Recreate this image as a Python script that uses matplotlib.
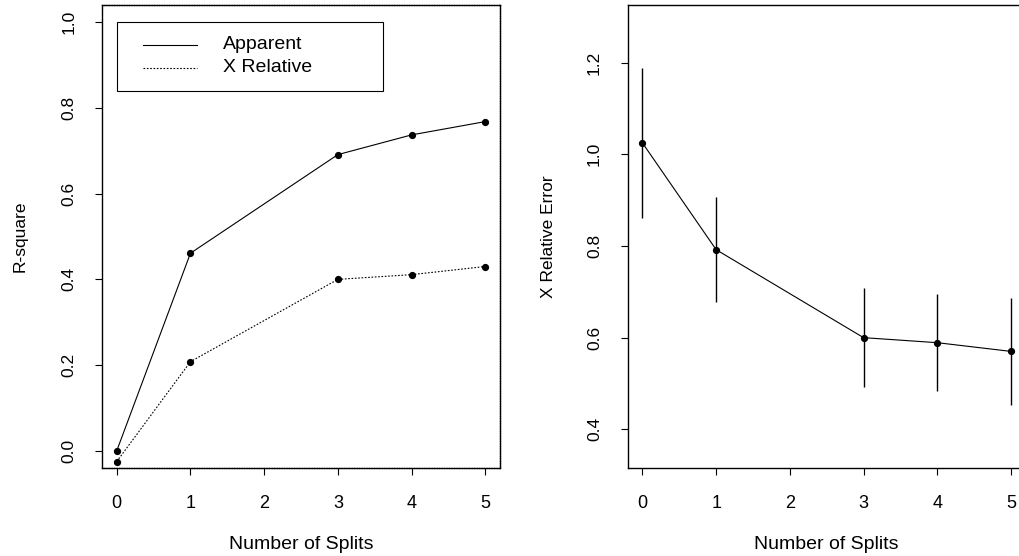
import numpy as np
import matplotlib
matplotlib.use("Agg")
import matplotlib.pyplot as plt
from matplotlib.patches import Rectangle

plt.rcParams['font.family'] = ['Liberation Sans', 'DejaVu Sans']

# values
nsplit = [0, 1, 3, 4, 5]
apparent = [0.000, 0.461, 0.691, 0.737, 0.768]
xrelative = [-0.025, 0.208, 0.400, 0.411, 0.430]
xerror = [1.025, 0.792, 0.600, 0.589, 0.570]
xstd = [0.164, 0.114, 0.108, 0.106, 0.117]
legend_labels = ["Apparent", "X Relative"]

fig = plt.figure(figsize=(10.19, 5.56), dpi=100)
axw = 398 / 1019.
bot = 88 / 556.
axh = 463 / 556.
ax1 = fig.add_axes([102 / 1019., bot, axw, axh])
ax2 = fig.add_axes([627.7 / 1019., bot, axw, axh])

lw = 0.8
ms = 4.2
dots = (0, (1.5, 1.5))

# ---- left: R-square
ax1.plot(nsplit, apparent, '-', color='k', lw=lw, marker='o', ms=ms)
ax1.plot(nsplit, xrelative, color='k', lw=lw, ls=dots, marker='o', ms=ms)
ax1.set_xlim(-0.2, 5.2)
ax1.set_ylim(-0.04, 1.04)
ax1.set_yticks([0.0, 0.2, 0.4, 0.6, 0.8, 1.0])
ax1.set_ylabel("R-square", fontsize=12.5, labelpad=24)
ax1.set_xlabel("Number of Splits", fontsize=14, labelpad=17.5)
for s in ['top', 'right', 'bottom']:
    ax1.spines[s].set_linestyle((0, (1.2, 0.6)))

# legend box drawn like R's legend()
ax1.add_patch(Rectangle((0.0, 0.840), 3.61, 0.160, fill=False, ec='k', lw=lw))
ax1.plot([0.353, 1.085], [0.947, 0.947], '-', color='k', lw=lw)
ax1.plot([0.353, 1.085], [0.894, 0.894], color='k', lw=lw, ls=dots)
ax1.text(1.44, 0.947, legend_labels[0], fontsize=14, va='center', ha='left')
ax1.text(1.44, 0.894, legend_labels[1], fontsize=14, va='center', ha='left')

# ---- right: X relative error
ax2.plot(nsplit, xerror, '-', color='k', lw=lw, marker='o', ms=ms)
lo = np.array(xerror) - np.array(xstd)
hi = np.array(xerror) + np.array(xstd)
ax2.vlines(nsplit, lo, hi, color='k', lw=1.0)
ax2.set_xlim(-0.2, 5.2)
ax2.set_ylim(0.3155, 1.326)
ax2.set_yticks([0.4, 0.6, 0.8, 1.0, 1.2])
ax2.set_ylabel("X Relative Error", fontsize=12.5, labelpad=22)
ax2.set_xlabel("Number of Splits", fontsize=14, labelpad=17.5)

for ax in (ax1, ax2):
    ax.set_xticks([0, 1, 2, 3, 4, 5])
    ax.tick_params(direction='out', length=5, width=0.8, pad=14.5)
    ax.tick_params(axis='x', labelsize=13)
    ax.tick_params(axis='y', pad=13.5, labelsize=12.5)
    for lab in ax.get_yticklabels():
        lab.set_rotation(90)
        lab.set_va('center')
    for s in ax.spines.values():
        s.set_linewidth(1.0)

fig.savefig("out.png", dpi=100)
